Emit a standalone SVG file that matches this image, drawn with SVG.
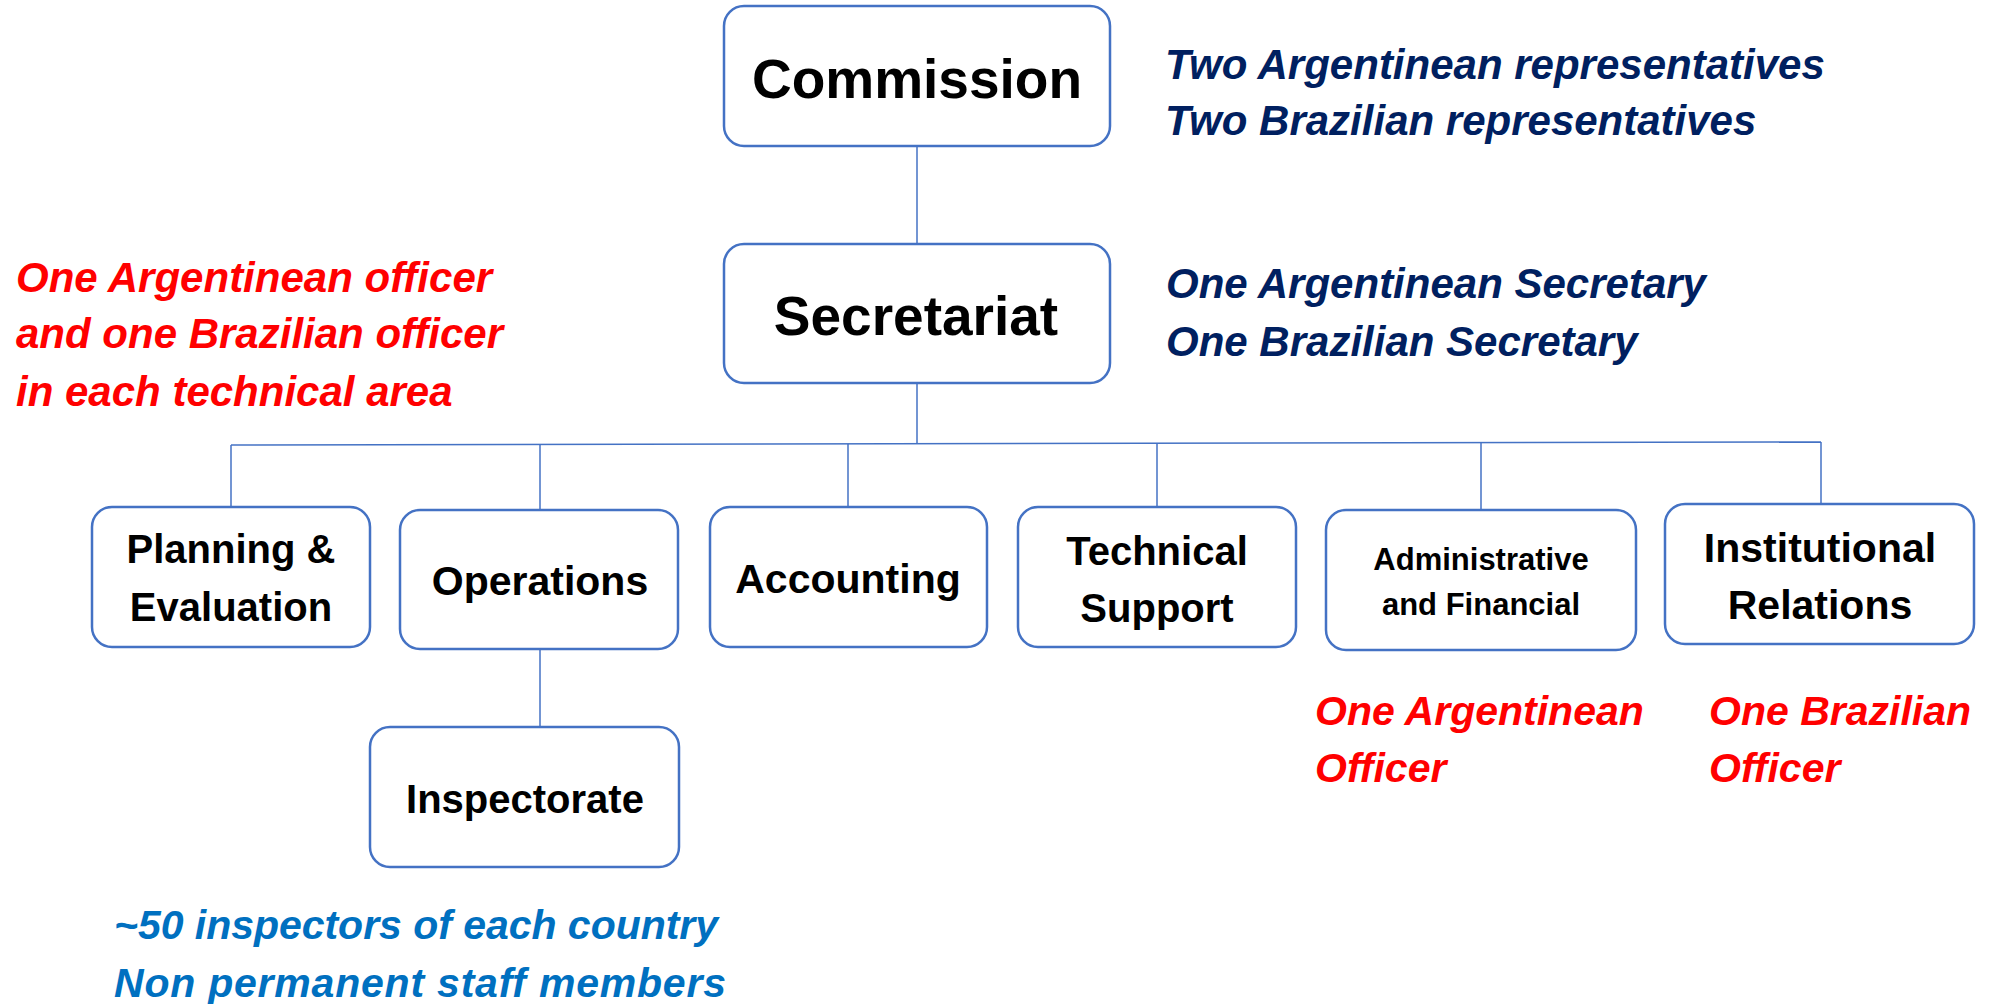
<svg xmlns="http://www.w3.org/2000/svg" width="1990" height="1004" viewBox="0 0 1990 1004">
<style>
.box{fill:#fff;stroke:#4472C4;stroke-width:2.5}
.con{stroke:#4472C4;stroke-width:1.5;fill:none}
.lbl{font-family:"Liberation Sans",Arial,sans-serif;font-weight:bold;fill:#000;text-anchor:middle}
.note{font-family:"Liberation Sans",Arial,sans-serif;font-weight:bold;font-style:italic}
.navy{fill:#002060}
.red{fill:#FF0000}
.blue{fill:#0070C0}
</style>
<rect width="1990" height="1004" fill="#fff"/>
<g id="connectors">
<line class="con" x1="917" y1="146" x2="917" y2="244"/>
<line class="con" x1="917" y1="383" x2="917" y2="444"/>
<line class="con" x1="231" y1="445" x2="1821" y2="442"/>
<line class="con" x1="231" y1="445" x2="231" y2="507"/>
<line class="con" x1="540" y1="445" x2="540" y2="510"/>
<line class="con" x1="848" y1="444" x2="848" y2="507"/>
<line class="con" x1="1157" y1="443" x2="1157" y2="507"/>
<line class="con" x1="1481" y1="443" x2="1481" y2="510"/>
<line class="con" x1="1821" y1="442" x2="1821" y2="504"/>
<line class="con" x1="540" y1="649" x2="540" y2="727"/>
</g>
<g id="commission">
<rect class="box" x="724" y="6" width="386" height="140" rx="20"/>
<text class="lbl" x="917" y="98" font-size="55">Commission</text>
</g>
<g id="secretariat">
<rect class="box" x="724" y="244" width="386" height="139" rx="20"/>
<text class="lbl" x="916" y="335" font-size="55">Secretariat</text>
</g>
<g id="planning">
<rect class="box" x="92" y="507" width="278" height="140" rx="20"/>
<text class="lbl" x="231" y="563" font-size="40">Planning &amp;</text>
<text class="lbl" x="231" y="621" font-size="40">Evaluation</text>
</g>
<g id="operations">
<rect class="box" x="400" y="510" width="278" height="139" rx="20"/>
<text class="lbl" x="540" y="595" font-size="41">Operations</text>
</g>
<g id="accounting">
<rect class="box" x="710" y="507" width="277" height="140" rx="20"/>
<text class="lbl" x="848" y="593" font-size="41">Accounting</text>
</g>
<g id="technical">
<rect class="box" x="1018" y="507" width="278" height="140" rx="20"/>
<text class="lbl" x="1157" y="565" font-size="40">Technical</text>
<text class="lbl" x="1157" y="622" font-size="40">Support</text>
</g>
<g id="administrative">
<rect class="box" x="1326" y="510" width="310" height="140" rx="20"/>
<text class="lbl" x="1481" y="570" font-size="31">Administrative</text>
<text class="lbl" x="1481" y="615" font-size="31">and Financial</text>
</g>
<g id="institutional">
<rect class="box" x="1665" y="504" width="309" height="140" rx="20"/>
<text class="lbl" x="1820" y="562" font-size="41">Institutional</text>
<text class="lbl" x="1820" y="619" font-size="41">Relations</text>
</g>
<g id="inspectorate">
<rect class="box" x="370" y="727" width="309" height="140" rx="20"/>
<text class="lbl" x="525" y="813" font-size="40">Inspectorate</text>
</g>
<g id="notes">
<text class="note navy" x="1165" y="79" font-size="42">Two Argentinean representatives</text>
<text class="note navy" x="1165" y="135" font-size="42">Two Brazilian representatives</text>
<text class="note navy" x="1166" y="298" font-size="42">One Argentinean Secretary</text>
<text class="note navy" x="1166" y="356" font-size="42">One Brazilian Secretary</text>
<text class="note red" x="16" y="292" font-size="42">One Argentinean officer</text>
<text class="note red" x="16" y="348" font-size="42">and one Brazilian officer</text>
<text class="note red" x="16" y="406" font-size="42">in each technical area</text>
<text class="note red" x="1315" y="725" font-size="41">One Argentinean</text>
<text class="note red" x="1315" y="782" font-size="41">Officer</text>
<text class="note red" x="1709" y="725" font-size="41">One Brazilian</text>
<text class="note red" x="1709" y="782" font-size="41">Officer</text>
<text class="note blue" x="114" y="939" font-size="41" textLength="604" lengthAdjust="spacing">~50 inspectors of each country</text>
<text class="note blue" x="114" y="997" font-size="41" textLength="612" lengthAdjust="spacing">Non permanent staff members</text>
</g>
</svg>
